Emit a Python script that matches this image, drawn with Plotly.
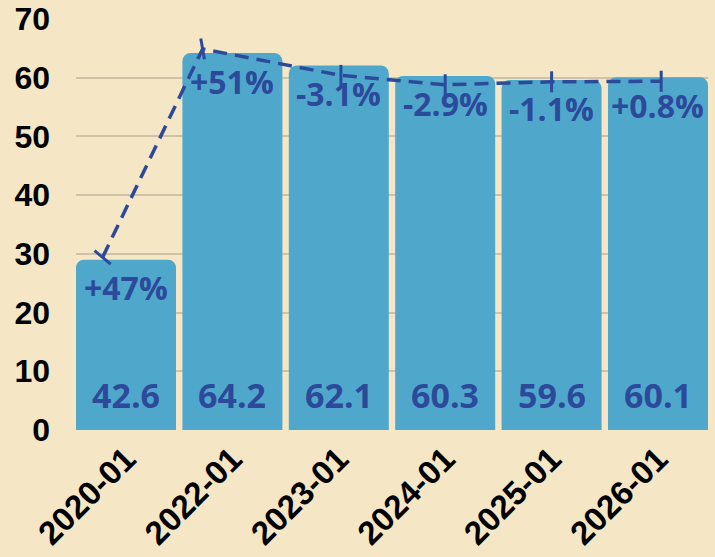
import plotly.graph_objects as go

categories = ["2020-01", "2022-01", "2023-01", "2024-01", "2025-01", "2026-01"]
bar_values = [29.0, 64.2, 62.1, 60.3, 59.6, 60.1]
value_labels = ["42.6", "64.2", "62.1", "60.3", "59.6", "60.1"]
# dashed trend line: positions (in category-index units) and values as read
line_x = [-0.22, 0.72, 2.02, 3.0, 4.0, 5.03]
line_values = [29.4, 64.9, 60.4, 58.8, 59.3, 59.4]
pct_labels = ["+47%", "+51%", "-3.1%", "-2.9%", "-1.1%", "+0.8%"]
y_ticks = [0, 10, 20, 30, 40, 50, 60, 70]

BG = "#F5E6C6"
BAR = "#4FA8CC"
DARK = "#2D4A9A"
GRID = "#CFC2A6"

idx = list(range(len(categories)))

fig = go.Figure()
fig.add_trace(go.Bar(
    x=idx, y=bar_values,
    marker=dict(color=BAR, cornerradius=8, line=dict(width=0)),
    hoverinfo="skip",
))
fig.add_trace(go.Scatter(
    x=line_x, y=line_values, mode="lines+markers",
    line=dict(color=DARK, width=3.5, dash="14px,8px"),
    marker=dict(symbol="line-ns", size=15, angle=[-50, -10, 0, 0, 0, 0],
                line=dict(color=DARK, width=3)),
    hoverinfo="skip",
))

annotations = []
for i, v, lab in zip(idx, bar_values, pct_labels):
    annotations.append(dict(
        x=i, y=v, xref="x", yref="y", text=lab, showarrow=False,
        yanchor="middle", yshift=-28,
        font=dict(family="Open Sans", size=32, color=DARK, weight="bold"),
    ))
for i, lab in zip(idx, value_labels):
    annotations.append(dict(
        x=i, y=0, xref="x", yref="y", text=lab, showarrow=False,
        yanchor="middle", yshift=35,
        font=dict(family="Open Sans", size=34, color=DARK, weight="bold"),
    ))

fig.update_layout(
    width=715, height=557,
    margin=dict(l=76, r=7, t=19, b=127, autoexpand=False),
    paper_bgcolor=BG, plot_bgcolor=BG,
    showlegend=False,
    bargap=0.06,
    annotations=annotations,
    xaxis=dict(
        type="linear", tickvals=idx, ticktext=categories,
        range=[-0.47, 5.47], tickangle=-45, showgrid=False, zeroline=False,
        showline=False, ticks="", automargin=False, ticklabelstandoff=2,
        tickfont=dict(family="Liberation Sans", size=33, color="black", weight="bold"),
    ),
    yaxis=dict(
        range=[0, 70], tickvals=y_ticks, showgrid=True, gridcolor=GRID, gridwidth=1.5,
        zeroline=False, showline=False, ticks="", ticklabelstandoff=25, automargin=False,
        tickfont=dict(family="Liberation Sans", size=32, color="black", weight="bold"),
    ),
)

fig.write_html("out.html", config={"displayModeBar": False},
               post_script="document.body.style.margin='0';")
